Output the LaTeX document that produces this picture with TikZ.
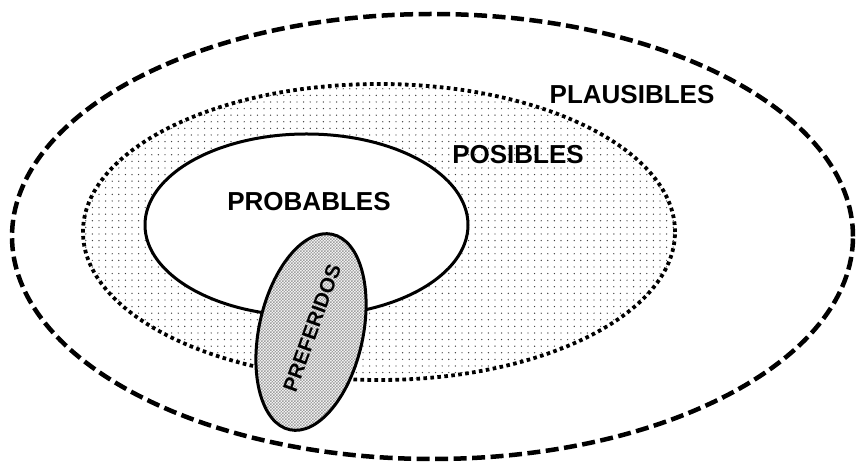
\documentclass[tikz,border=0pt]{standalone}
\usepackage{fontspec}
\setmainfont{Liberation Sans}
\usetikzlibrary{patterns}
\pgfdeclarepatternformonly{sparsedots}{\pgfpoint{-1pt}{-1pt}}{\pgfpoint{1pt}{1pt}}{\pgfpoint{6.6pt}{6.6pt}}{\pgfpathcircle{\pgfpointorigin}{0.7pt}\pgfusepath{fill}}
\pgfdeclarepatternformonly{densedots}{\pgfpoint{-1pt}{-1pt}}{\pgfpoint{3pt}{3pt}}{\pgfpoint{3pt}{3pt}}{\pgfpathrectangle{\pgfpoint{0pt}{0pt}}{\pgfpoint{1.5pt}{1.5pt}}\pgfpathrectangle{\pgfpoint{1.5pt}{1.5pt}}{\pgfpoint{1.5pt}{1.5pt}}\pgfusepath{fill}}
\tikzset{
  lbl/.style={font=\bfseries\fontsize{26}{26}\selectfont, inner sep=0pt},
  outerset/.style={draw, line width=4.5pt, dash pattern=on 13pt off 5.5pt, fill=white},
  possset/.style={draw, line width=3.8pt, dash pattern=on 3.6pt off 3.4pt, pattern=sparsedots, pattern color=black!75},
  probset/.style={draw, line width=3pt, fill=white},
  prefset/.style={draw, line width=3pt, pattern=densedots, pattern color=gray!75},
}
\begin{document}
\begin{tikzpicture}[x=1pt,y=1pt]
\useasboundingbox (0,0) rectangle (857,465);
\fill[white] (0,0) rectangle (857,465);
\coordinate (cOut) at (432.5,228.5);
\coordinate (cPos) at (379,233);
\coordinate (cProb) at (306.5,240);
\coordinate (cPref) at (311,133);
\path[outerset] (cOut) ellipse [x radius=420.5, y radius=222.5];
\fill[white] (cPos) ellipse [x radius=296, y radius=148];
\path[possset] (cPos) ellipse [x radius=296, y radius=148];
\path[probset] (cProb) ellipse [x radius=161.5, y radius=91];
\fill[white, rotate around={77.7:(cPref)}] (cPref) ellipse [x radius=100, y radius=52];
\path[prefset, rotate around={77.7:(cPref)}] (cPref) ellipse [x radius=100, y radius=52];
\node[lbl] (plaus) at (632,370) {PLAUSIBLES};
\node[lbl] (posib) at (518,310) {POSIBLES};
\node[lbl] (probab) at (309,263) {PROBABLES};
\node[lbl, font=\bfseries\fontsize{20.5}{20.5}\selectfont, rotate=70] (pref) at (312,137) {PREFERIDOS};
\end{tikzpicture}
\end{document}
